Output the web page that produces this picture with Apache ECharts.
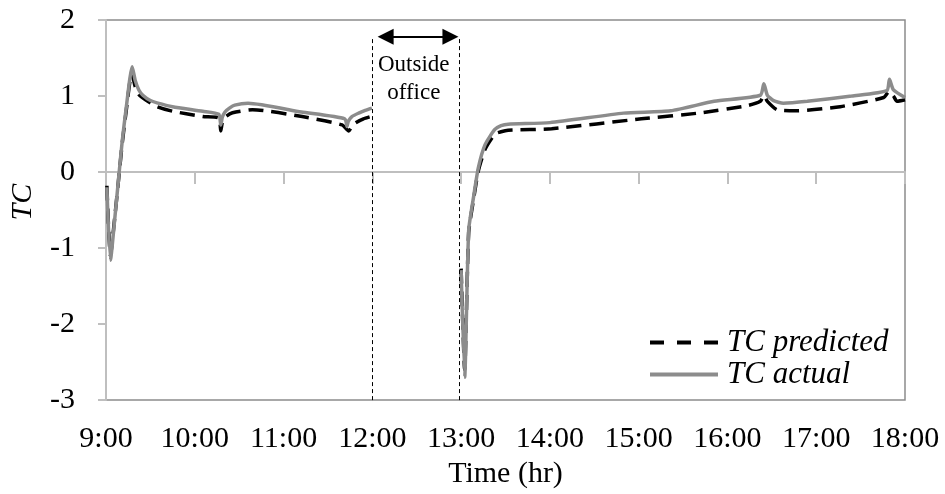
<!DOCTYPE html>
<html>
<head>
<meta charset="utf-8">
<script src="https://cdn.jsdelivr.net/npm/echarts@6/dist/echarts.min.js"></script>
<style>
html,body{margin:0;padding:0;background:#fff;}
#chart{width:945px;height:494px;}
</style>
</head>
<body>
<div id="chart"></div>
<script>
// Time in hours (9 = 9:00), null value breaks the line (outside office)
const actualTime = [9.01, 9.05, 9.10, 9.146, 9.183, 9.225, 9.295, 9.33, 9.37, 9.415, 9.5, 9.575, 9.75, 10.09, 10.27, 10.293, 10.31, 10.34, 10.39, 10.45, 10.6, 11.2, 11.69, 11.714, 11.73, 11.77, 11.846, 11.92, 11.995,
  12.5,
  13.0, 13.04, 13.085, 13.14, 13.195, 13.27, 13.38, 13.45, 13.53, 14.0, 14.83, 15.36, 15.85, 16.37, 16.41, 16.45, 16.52, 16.63, 16.9, 17.4, 17.795, 17.825, 17.87, 18.0];
const actualValue = [-0.2, -1.16, -0.6, -0.03, 0.41, 0.82, 1.385, 1.2, 1.08, 1.01, 0.94, 0.91, 0.86, 0.80, 0.76, 0.62, 0.72, 0.79, 0.84, 0.88, 0.905, 0.79, 0.70, 0.60, 0.67, 0.73, 0.775, 0.81, 0.84,
  null,
  -1.29, -2.7, -0.77, -0.33, 0.06, 0.36, 0.56, 0.61, 0.63, 0.65, 0.775, 0.805, 0.93, 1.01, 1.16, 1.01, 0.94, 0.905, 0.93, 1.0, 1.07, 1.22, 1.08, 0.98];

const predictedTime = [9.01, 9.05, 9.10, 9.146, 9.183, 9.225, 9.29, 9.33, 9.37, 9.445, 9.575, 9.75, 10.09, 10.27, 10.293, 10.31, 10.35, 10.425, 10.65, 11.21, 11.66, 11.734, 11.77, 11.81, 11.9, 11.984,
  12.5,
  13.0, 13.04, 13.085, 13.14, 13.195, 13.27, 13.38, 13.45, 13.53, 14.02, 15.03, 15.67, 16.23, 16.37, 16.41, 16.45, 16.56, 16.78, 17.27, 17.76, 17.82, 17.87, 17.91, 18.0];
const predictedValue = [-0.18, -1.1, -0.58, -0.05, 0.38, 0.78, 1.3, 1.12, 1.02, 0.95, 0.86, 0.80, 0.73, 0.71, 0.54, 0.65, 0.73, 0.78, 0.82, 0.73, 0.62, 0.54, 0.60, 0.645, 0.70, 0.73,
  null,
  -1.27, -2.6, -0.8, -0.36, 0.02, 0.30, 0.50, 0.53, 0.55, 0.57, 0.70, 0.775, 0.875, 0.93, 1.01, 0.93, 0.82, 0.805, 0.86, 0.98, 1.06, 1.0, 0.93, 0.95];

const xTicks = [9, 10, 11, 12, 13, 14, 15, 16, 17, 18];
const outsideStart = 12.0;
const outsideEnd = 12.98;
const arrowLevel = 1.78;

const pair = (t, v) => t.map((x, i) => [x, v[i]]);
const FONT = 'Liberation Serif';
const DASH_ICON = 'path://M0,0H14V4H0Z M27,0H41V4H27Z M54,0H68V4H54Z';
const LINE_ICON = 'path://M0,0H68V4H0Z';

const chart = echarts.init(document.getElementById('chart'));
chart.setOption({
  animation: false,
  backgroundColor: '#fff',
  grid: { left: 103, right: 40, top: 20, bottom: 91, show: true, borderColor: '#8c8c8c', borderWidth: 1.5 },
  legend: {
    orient: 'vertical', left: 650, top: 327, padding: 0, itemGap: 1,
    itemWidth: 68, itemHeight: 4,
    textStyle: { fontFamily: FONT, fontSize: 31, fontStyle: 'italic', color: '#000', lineHeight: 30, padding: [0, 0, 0, 4] },
    data: [{ name: 'TC predicted', icon: DASH_ICON }, { name: 'TC actual', icon: LINE_ICON }]
  },
  xAxis: {
    type: 'value', min: xTicks[0], max: xTicks[xTicks.length - 1], interval: 1,
    name: 'Time (hr)', nameLocation: 'middle', nameGap: 57,
    nameTextStyle: { fontFamily: FONT, fontSize: 30, color: '#000' },
    axisLine: { lineStyle: { color: '#bfbfbf', width: 2 } },
    axisTick: { length: 12, lineStyle: { color: '#bfbfbf', width: 2 } },
    axisLabel: { margin: 24, fontFamily: FONT, fontSize: 30, color: '#000', formatter: v => v + ':00' },
    splitLine: { show: false }
  },
  yAxis: {
    type: 'value', min: -3, max: 2, interval: 1,
    name: 'TC', nameLocation: 'middle', nameGap: 68, nameRotate: 90,
    nameTextStyle: { fontFamily: FONT, fontSize: 30, fontStyle: 'italic', color: '#000', padding: [0, 0, 0, 16] },
    axisLine: { show: true, lineStyle: { color: '#bfbfbf', width: 2 } },
    axisTick: { show: true, length: 8, lineStyle: { color: '#bfbfbf', width: 2 } },
    axisLabel: { margin: 31, fontFamily: FONT, fontSize: 30, color: '#000' },
    splitLine: { show: false }
  },
  graphic: [{
    type: 'text', left: 378, top: 51,
    style: { text: 'Outside\noffice', fontFamily: FONT, fontSize: 23, lineHeight: 28, fill: '#000', align: 'center', textAlign: 'center' }
  }],
  series: [
    {
      name: 'TC predicted', type: 'line', data: pair(predictedTime, predictedValue),
      showSymbol: false, symbol: 'none', smooth: 0.2, connectNulls: false,
      lineStyle: { color: '#000', width: 3.5, type: [15, 8] },
      itemStyle: { color: '#000' },
      markLine: {
        silent: true, animation: false,
        symbol: ['none', 'none'],
        label: { show: false },
        lineStyle: { color: '#000', width: 1, type: [4, 3] },
        data: [
          [{ coord: [outsideStart, -3] }, { coord: [outsideStart, arrowLevel] }],
          [{ coord: [outsideEnd, -3] }, { coord: [outsideEnd, arrowLevel] }],
          [{ coord: [outsideStart + 0.15, arrowLevel], symbol: 'triangle', symbolSize: [16, 16], lineStyle: { type: 'solid', width: 2 } },
           { coord: [outsideEnd - 0.1, arrowLevel], symbol: 'triangle', symbolSize: [16, 16] }]
        ]
      }
    },
    {
      name: 'TC actual', type: 'line', data: pair(actualTime, actualValue),
      showSymbol: false, symbol: 'none', smooth: 0.2, connectNulls: false,
      lineStyle: { color: '#8c8c8c', width: 3.5 },
      itemStyle: { color: '#8c8c8c' }
    }
  ]
});
</script>
</body>
</html>
